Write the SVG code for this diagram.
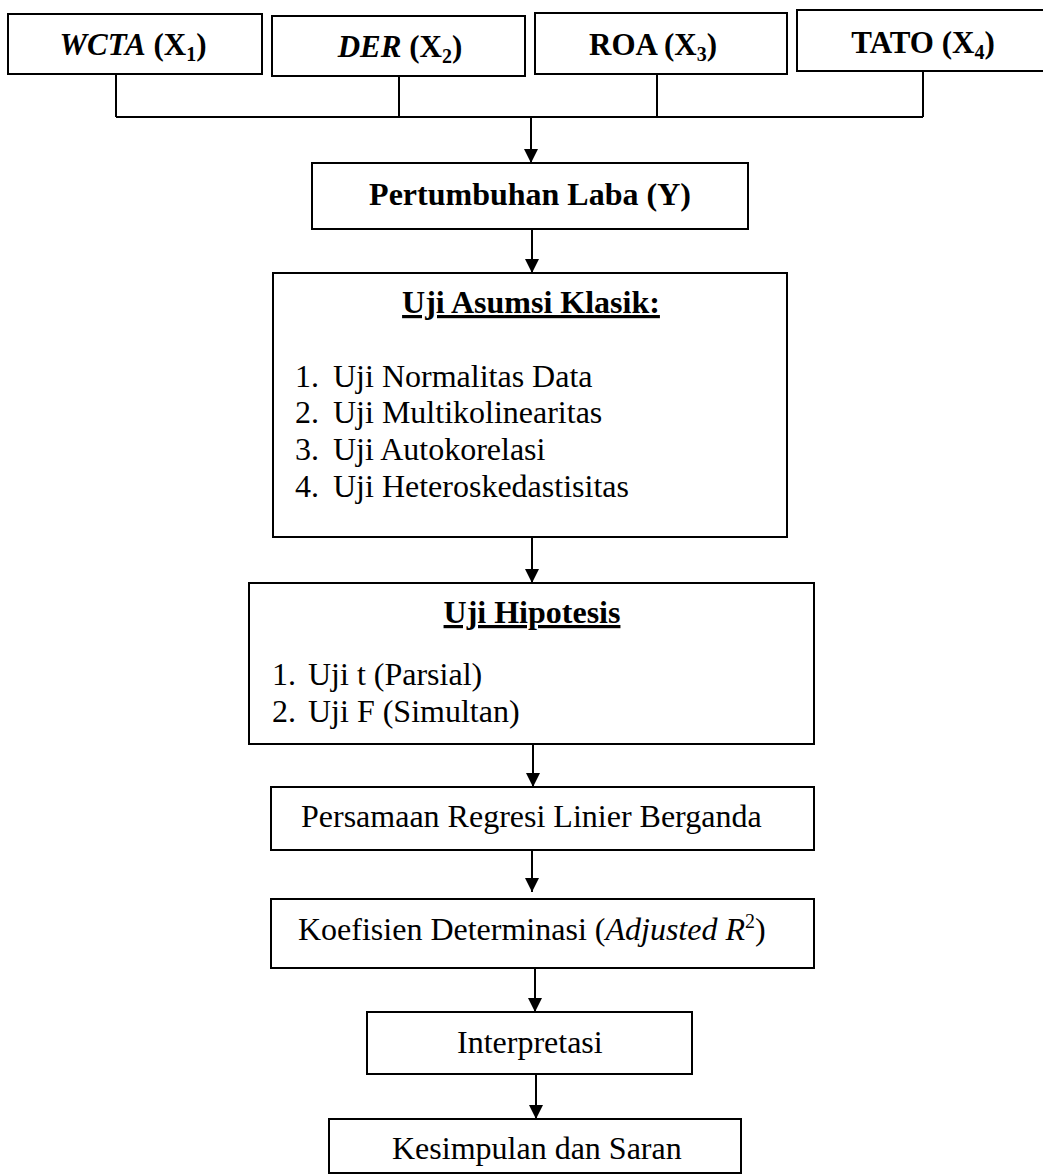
<svg xmlns="http://www.w3.org/2000/svg" width="1043" height="1176" viewBox="0 0 1043 1176">
<style>
.box{fill:#fff;stroke:#000;stroke-width:2}
.t{font-family:"Liberation Serif","Times New Roman",serif;font-size:32px;fill:#000}
.tb{font-family:"Liberation Serif","Times New Roman",serif;font-size:31px;font-weight:bold;fill:#000}
.b{font-weight:bold}
.i{font-style:italic}
.c{stroke:#000;stroke-width:2;fill:none}
</style>
<defs>
<marker id="ah" markerUnits="userSpaceOnUse" markerWidth="14" markerHeight="14" viewBox="0 0 14 14" refX="14" refY="7" orient="auto">
<path d="M0,0 L14,7 L0,14 z" fill="#000"/>
</marker>
</defs>
<rect width="1043" height="1176" fill="#fff"/>
<g id="connectors">
<path class="c" d="M116,74 V117 M399,76 V117 M657,74 V117 M923,71 V117 M116,117 H923"/>
<line class="c" x1="531" y1="117" x2="531" y2="163" marker-end="url(#ah)"/>
<line class="c" x1="532" y1="229" x2="532" y2="273" marker-end="url(#ah)"/>
<line class="c" x1="532" y1="537" x2="532" y2="583" marker-end="url(#ah)"/>
<line class="c" x1="533" y1="744" x2="533" y2="787" marker-end="url(#ah)"/>
<line class="c" x1="532" y1="850" x2="532" y2="892" marker-end="url(#ah)"/>
<line class="c" x1="535" y1="968" x2="535" y2="1012" marker-end="url(#ah)"/>
<line class="c" x1="536" y1="1074" x2="536" y2="1119" marker-end="url(#ah)"/>
</g>
<g id="wcta">
<rect class="box" x="8" y="14" width="254" height="60"/>
<text class="tb" x="133" y="55" text-anchor="middle"><tspan class="i">WCTA</tspan> (X<tspan font-size="20" dy="6">1</tspan><tspan dy="-6">)</tspan></text>
</g>
<g id="der">
<rect class="box" x="272" y="16" width="253" height="60"/>
<text class="tb" x="400" y="57" text-anchor="middle"><tspan class="i">DER</tspan> (X<tspan font-size="20" dy="6">2</tspan><tspan dy="-6">)</tspan></text>
</g>
<g id="roa">
<rect class="box" x="535" y="13" width="252" height="61"/>
<text class="tb" x="653" y="55" text-anchor="middle">ROA (X<tspan font-size="20" dy="6">3</tspan><tspan dy="-6">)</tspan></text>
</g>
<g id="tato">
<rect class="box" x="797" y="10" width="255" height="61"/>
<text class="tb" x="923" y="53" text-anchor="middle">TATO (X<tspan font-size="20" dy="6">4</tspan><tspan dy="-6">)</tspan></text>
</g>
<g id="pertumbuhan">
<rect class="box" x="312" y="163" width="436" height="66"/>
<text class="t b" x="530" y="205" text-anchor="middle">Pertumbuhan Laba (Y)</text>
</g>
<g id="asumsi">
<rect class="box" x="273" y="273" width="514" height="264"/>
<text class="t b" x="531" y="313" text-anchor="middle" text-decoration="underline">Uji Asumsi Klasik:</text>
<text class="t" x="295" y="387">1.</text><text class="t" x="333" y="387">Uji Normalitas Data</text>
<text class="t" x="295" y="423">2.</text><text class="t" x="333" y="423">Uji Multikolinearitas</text>
<text class="t" x="295" y="460">3.</text><text class="t" x="333" y="460">Uji Autokorelasi</text>
<text class="t" x="295" y="497">4.</text><text class="t" x="333" y="497">Uji Heteroskedastisitas</text>
</g>
<g id="hipotesis">
<rect class="box" x="249" y="583" width="565" height="161"/>
<text class="t b" x="532" y="623" text-anchor="middle" text-decoration="underline">Uji Hipotesis</text>
<text class="t" x="272" y="685">1.</text><text class="t" x="308" y="685">Uji t (Parsial)</text>
<text class="t" x="272" y="722">2.</text><text class="t" x="308" y="722">Uji F (Simultan)</text>
</g>
<g id="persamaan">
<rect class="box" x="271" y="787" width="543" height="63"/>
<text class="t" x="301" y="827">Persamaan Regresi Linier Berganda</text>
</g>
<g id="koefisien">
<rect class="box" x="271" y="899" width="543" height="69"/>
<text class="t" x="298" y="940">Koefisien Determinasi (<tspan class="i">Adjusted R</tspan><tspan font-size="20" dy="-12">2</tspan><tspan dy="12">)</tspan></text>
</g>
<g id="interpretasi">
<rect class="box" x="367" y="1012" width="325" height="62"/>
<text class="t" x="457" y="1053">Interpretasi</text>
</g>
<g id="kesimpulan">
<rect class="box" x="329" y="1119" width="412" height="54"/>
<text class="t" x="392" y="1159">Kesimpulan dan Saran</text>
</g>
</svg>
